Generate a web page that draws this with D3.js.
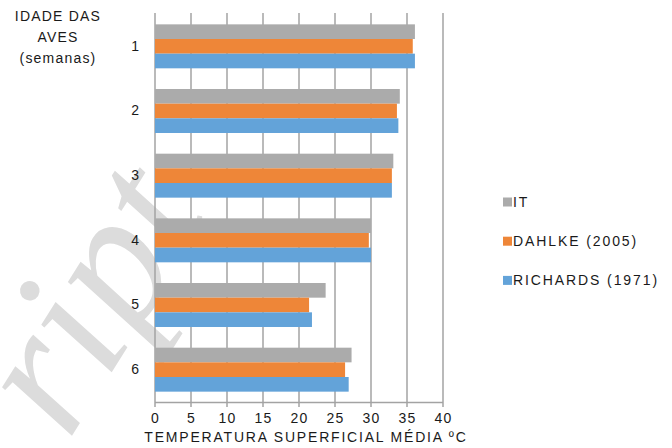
<!DOCTYPE html>
<html>
<head>
<meta charset="utf-8">
<script src="https://cdn.jsdelivr.net/npm/d3@7"></script>
<style>
  html, body { margin: 0; padding: 0; background: #fff; }
  svg { display: block; }
  text { font-family: "Liberation Sans", Arial, sans-serif; fill: #1a1a1a; }
</style>
</head>
<body>
<svg id="chart" width="672" height="448"></svg>
<script>
// ---- data ----
const categories = ["1", "2", "3", "4", "5", "6"];
const seriesNames = ["IT", "DAHLKE (2005)", "RICHARDS (1971)"];
const seriesIT = [36.1, 34.0, 33.1, 30.0, 23.7, 27.3];
const seriesDahlke = [35.8, 33.6, 32.9, 29.7, 21.4, 26.4];
const seriesRichards = [36.1, 33.8, 32.9, 30.0, 21.8, 26.9];
const xTicks = [0, 5, 10, 15, 20, 25, 30, 35, 40];
const yTitleLines = ["IDADE DAS", "AVES", "(semanas)"];
const xTitle = "TEMPERATURA SUPERFICIAL MÉDIA ºC";
const watermark = "ript";
const colors = ["#ababab", "#ee8638", "#63a3d9"];

const seriesValues = [seriesIT, seriesDahlke, seriesRichards];

const svg = d3.select("#chart");

// faint watermark behind the chart
svg.append("text")
  .attr("transform", "translate(68,442) rotate(-58)")
  .style("font-family", "'Liberation Serif', 'Times New Roman', serif")
  .style("font-style", "italic")
  .style("font-size", "185px")
  .style("fill", "#dcdcdc")
  .text(watermark);

const x = d3.scaleLinear().domain([0, 40]).range([155, 443]);
const y = d3.scaleBand().domain(categories).range([14, 402])
  .paddingInner(0.32).paddingOuter(0.16);
const ys = d3.scaleBand().domain(seriesNames).range([0, y.bandwidth()]);

// gridlines (vertical)
svg.append("g").selectAll("line").data(xTicks).join("line")
  .attr("x1", d => x(d)).attr("x2", d => x(d))
  .attr("y1", 13).attr("y2", 407)
  .attr("stroke", "#a3a3a3").attr("stroke-width", 1.5);

// x axis baseline
svg.append("line")
  .attr("x1", x(0)).attr("x2", x(40))
  .attr("y1", 402.5).attr("y2", 402.5)
  .attr("stroke", "#a3a3a3").attr("stroke-width", 1.5);

// bars
const groups = svg.append("g").selectAll("g").data(categories).join("g")
  .attr("transform", d => `translate(0,${y(d)})`);
groups.selectAll("rect")
  .data((c, i) => seriesNames.map((s, j) => ({ s, v: seriesValues[j][i], j })))
  .join("rect")
  .attr("x", x(0))
  .attr("y", d => ys(d.s))
  .attr("width", d => x(d.v) - x(0))
  .attr("height", ys.bandwidth())
  .attr("fill", d => colors[d.j]);

// x axis labels
const xAxis = svg.append("g")
  .attr("transform", "translate(0,418)")
  .call(d3.axisBottom(x).tickValues(xTicks).tickSize(0).tickPadding(0));
xAxis.select(".domain").remove();
xAxis.selectAll("text")
  .attr("dy", "0.35em")
  .style("font-size", "14px")
  .style("letter-spacing", "1.2px")
  .style("font-family", "'Liberation Sans', Arial, sans-serif")
  .attr("fill", "#1a1a1a");

// y axis labels
const yAxis = svg.append("g")
  .attr("transform", "translate(139,0)")
  .call(d3.axisLeft(y).tickSize(0).tickPadding(0));
yAxis.select(".domain").remove();
yAxis.selectAll("text")
  .style("font-size", "14px")
  .style("font-family", "'Liberation Sans', Arial, sans-serif")
  .attr("fill", "#1a1a1a");

// x title
svg.append("text")
  .attr("x", 306).attr("y", 442)
  .attr("text-anchor", "middle")
  .style("font-size", "14px")
  .style("letter-spacing", "1.8px")
  .text(xTitle);

// y title
svg.append("g").selectAll("text").data(yTitleLines).join("text")
  .attr("x", 58)
  .attr("y", (d, i) => 16 + i * 21)
  .attr("dy", "0.35em")
  .attr("text-anchor", "middle")
  .style("font-size", "14px")
  .style("letter-spacing", "1.2px")
  .text(d => d);

// legend
const legend = svg.append("g").selectAll("g").data(seriesNames).join("g")
  .attr("transform", (d, i) => `translate(503,${202 + i * 39.2})`);
legend.append("rect")
  .attr("x", 0).attr("y", -4.5).attr("width", 9).attr("height", 9)
  .attr("fill", (d, i) => colors[i]);
legend.append("text")
  .attr("x", 10).attr("dy", "0.36em")
  .style("font-size", "14px")
  .style("letter-spacing", "1.9px")
  .text(d => d);
</script>
</body>
</html>
